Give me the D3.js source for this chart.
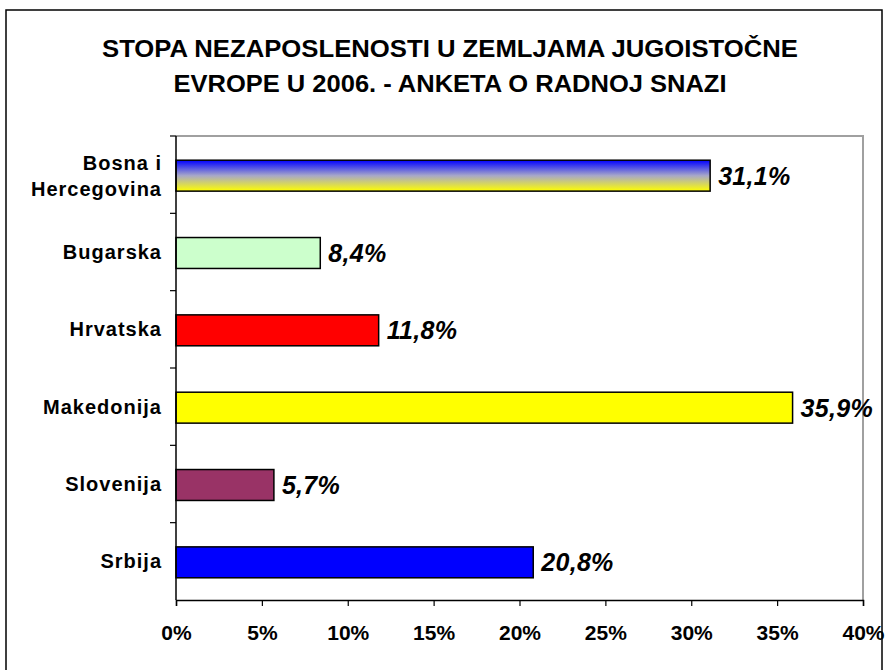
<!DOCTYPE html>
<html>
<head>
<meta charset="utf-8">
<script src="https://cdn.jsdelivr.net/npm/d3@7"></script>
<style>
  body { margin: 0; background: #fff; }
  text { font-family: "Liberation Sans", Arial, sans-serif; font-weight: bold; }
</style>
</head>
<body>
<svg id="chart" width="889" height="670"></svg>
<script>
// data
var countries = ["Bosna i|Hercegovina", "Bugarska", "Hrvatska", "Makedonija", "Slovenija", "Srbija"];
var rates = [31.1, 8.4, 11.8, 35.9, 5.7, 20.8];
var barColors = ["url(#bihGrad)", "#ccffcc", "#ff0000", "#ffff00", "#993366", "#0000ff"];
var xTicks = [0, 5, 10, 15, 20, 25, 30, 35, 40];
var titleLines = ["STOPA NEZAPOSLENOSTI U ZEMLJAMA JUGOISTOČNE", "EVROPE U 2006. - ANKETA O RADNOJ SNAZI"];

var svg = d3.select("#chart");
var margins = { top: 136, left: 176, right: 26, bottom: 70 };
var W = 889, H = 670;

// gradient for the first bar
var grad = svg.append("defs").append("linearGradient")
    .attr("id", "bihGrad").attr("x1", 0).attr("y1", 0).attr("x2", 0).attr("y2", 1);
grad.append("stop").attr("offset", "0%").attr("stop-color", "#0000ff");
grad.append("stop").attr("offset", "50%").attr("stop-color", "#a8a8c8");
grad.append("stop").attr("offset", "100%").attr("stop-color", "#ffff00");

// outer frame
svg.append("rect")
    .attr("x", 6).attr("y", 10)
    .attr("width", 876).attr("height", 680)
    .attr("fill", "none").attr("stroke", "black").attr("stroke-width", 1.5);

// title
var titleWidths = [696, 553];
svg.append("g").selectAll("text")
    .data(titleLines)
    .enter()
    .append("text")
    .attr("x", 450)
    .attr("y", (d, i) => 57 + i * 35)
    .attr("text-anchor", "middle")
    .attr("textLength", (d, i) => titleWidths[i])
    .attr("lengthAdjust", "spacingAndGlyphs")
    .style("font-size", "24px")
    .text(d => d);

var x = d3.scaleLinear().domain([0, 40]).range([margins.left, W - margins.right]);
var y = d3.scaleBand().domain(countries).range([margins.top, H - margins.bottom]).paddingInner(0.6).paddingOuter(0.3);
var yEdge = d3.scaleBand().domain(countries).range([margins.top, H - margins.bottom]);

// plot area border (grey top and right)
svg.append("path")
    .attr("d", "M" + x(0) + "," + margins.top + "H" + x(40) + "V" + (H - margins.bottom))
    .attr("fill", "none").attr("stroke", "#a0a0a0").attr("stroke-width", 2);

// bars
svg.append("g").selectAll("rect")
    .data(rates)
    .enter()
    .append("rect")
    .attr("x", x(0))
    .attr("y", (d, i) => y(countries[i]) + 1)
    .attr("width", d => x(d) - x(0))
    .attr("height", y.bandwidth())
    .attr("fill", (d, i) => barColors[i])
    .attr("stroke", "black")
    .attr("stroke-width", 1.5);

// value labels
svg.append("g").selectAll("text")
    .data(rates)
    .enter()
    .append("text")
    .attr("x", d => x(d) + 8)
    .attr("y", (d, i) => y(countries[i]) + y.bandwidth() / 2 + 10)
    .style("font-size", "25px")
    .style("font-style", "italic")
    .style("letter-spacing", "0.3px")
    .text(d => d.toFixed(1).replace(".", ",") + "%");

// x axis
var xAxis = svg.append("g")
    .attr("transform", "translate(0," + (H - margins.bottom) + ")")
    .call(d3.axisBottom(x).tickValues(xTicks).tickSize(6).tickFormat(d => d + "%"));
xAxis.select(".domain").attr("stroke", "black").attr("stroke-width", 1.5);
xAxis.selectAll(".tick line").attr("stroke", "black").attr("stroke-width", 1.2);
xAxis.selectAll(".tick text")
    .attr("dy", null).attr("y", 40)
    .style("font-size", "21px")
    .style("font-family", "'Liberation Sans', Arial, sans-serif")
    .attr("fill", "black");

// y axis: ticks at band edges
var yAxisG = svg.append("g");
yAxisG.append("line")
    .attr("x1", x(0)).attr("x2", x(0))
    .attr("y1", margins.top).attr("y2", H - margins.bottom)
    .attr("stroke", "black").attr("stroke-width", 1.5);
yAxisG.selectAll(".ytick")
    .data(countries)
    .enter()
    .append("line")
    .attr("class", "ytick")
    .attr("x1", x(0) - 6).attr("x2", x(0))
    .attr("y1", d => yEdge(d)).attr("y2", d => yEdge(d))
    .attr("stroke", "black").attr("stroke-width", 1.2);

// category labels
var catLabels = yAxisG.selectAll(".ylabel")
    .data(countries)
    .enter()
    .append("text")
    .attr("class", "ylabel")
    .attr("text-anchor", "end")
    .attr("y", d => yEdge(d) + yEdge.bandwidth() / 2)
    .style("font-size", "20px")
    .style("letter-spacing", "1px");

catLabels.each(function(d) {
    var parts = d.split("|");
    var el = d3.select(this);
    parts.forEach((p, j) => {
        el.append("tspan")
            .attr("x", 162)
            .attr("dy", j == 0 ? (parts.length == 1 ? 7 : -5) : 26)
            .text(p);
    });
});
</script>
</body>
</html>
